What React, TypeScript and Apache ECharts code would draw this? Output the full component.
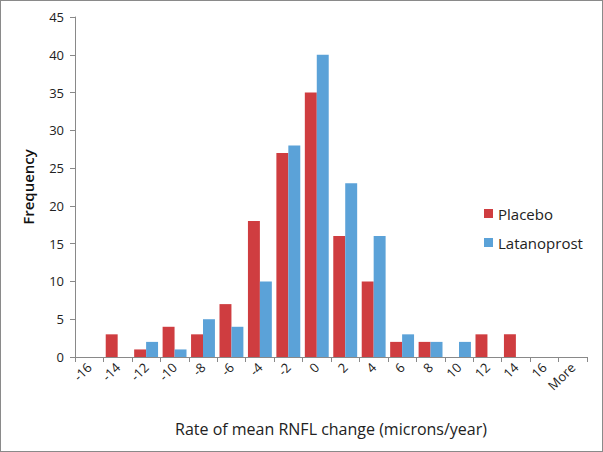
import React, { useEffect, useRef } from "react";
import * as echarts from "echarts";

const categories = ["-16", "-14", "-12", "-10", "-8", "-6", "-4", "-2", "0", "2", "4", "6", "8", "10", "12", "14", "16", "More"];
const placebo = [0, 3, 1, 4, 3, 7, 18, 27, 35, 16, 10, 2, 2, 0, 3, 3, 0, 0];
const latanoprost = [0, 0, 2, 1, 5, 4, 10, 28, 40, 23, 16, 3, 2, 2, 0, 0, 0, 0];
const yTicks = { min: 0, max: 45, interval: 5 };

const FONT = "'Open Sans', 'Liberation Sans', sans-serif";

export default function App() {
  const ref = useRef<HTMLDivElement>(null);
  useEffect(() => {
    if (!ref.current) return;
    const chart = echarts.init(ref.current, undefined, { renderer: "svg" });
    chart.setOption({
      animation: false,
      backgroundColor: "#ffffff",
      textStyle: { fontFamily: FONT },
      grid: { left: 74, right: 15, top: 16, bottom: 94, containLabel: false },
      legend: {
        orient: "vertical",
        left: 478,
        top: 200,
        itemWidth: 9,
        itemHeight: 9,
        itemGap: 14,
        icon: "rect",
        textStyle: { fontSize: 15, color: "#222", fontFamily: FONT },
        data: ["Placebo", "Latanoprost"],
      },
      xAxis: {
        type: "category",
        data: categories,
        name: "Rate of mean RNFL change (microns/year)",
        nameLocation: "middle",
        nameGap: 64,
        nameTextStyle: { fontSize: 16, color: "#222", fontFamily: FONT },
        axisLine: { lineStyle: { color: "#898989" } },
        axisTick: { show: true, length: 5, lineStyle: { color: "#898989" } },
        axisLabel: { rotate: 45, fontSize: 13, color: "#222", margin: 8, interval: 0 },
      },
      yAxis: {
        type: "value",
        min: yTicks.min,
        max: yTicks.max,
        interval: yTicks.interval,
        name: "Frequency",
        nameLocation: "middle",
        nameGap: 40,
        nameTextStyle: { fontSize: 15, color: "#111", fontFamily: FONT, fontWeight: 600 },
        axisLine: { show: true, lineStyle: { color: "#898989" } },
        axisTick: { show: true, length: 5, lineStyle: { color: "#898989" } },
        splitLine: { show: false },
        axisLabel: { fontSize: 13, color: "#222", margin: 11 },
      },
      series: [
        {
          name: "Placebo",
          type: "bar",
          data: placebo,
          itemStyle: { color: "#CF3D40" },
          barGap: "0%",
          barCategoryGap: "16%",
        },
        {
          name: "Latanoprost",
          type: "bar",
          data: latanoprost,
          itemStyle: { color: "#5BA2D8" },
          barGap: "0%",
          barCategoryGap: "16%",
        },
      ],
    });
    return () => chart.dispose();
  }, []);
  return (
    <div
      style={{
        position: "fixed",
        left: 0,
        top: 0,
        width: 603,
        height: 452,
        border: "1px solid #8a8a8a",
        boxSizing: "border-box",
        background: "#fff",
      }}
    >
      <div ref={ref} style={{ width: 601, height: 450 }} />
    </div>
  );
}
